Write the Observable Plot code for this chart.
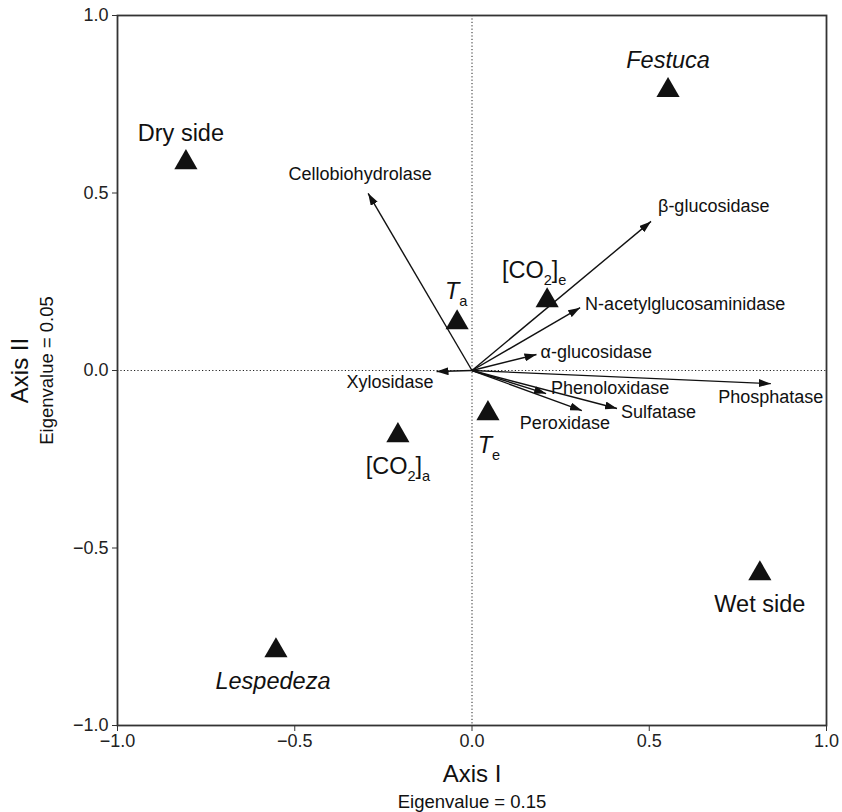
<!DOCTYPE html>
<html><head><meta charset="utf-8">
<script src="https://cdn.jsdelivr.net/npm/d3@7"></script>
<script src="https://cdn.jsdelivr.net/npm/@observablehq/plot@0.6"></script>
<style>body{margin:0;background:#fff;} svg{display:block;}</style>
</head><body><div id="chart"></div>
<script>
// ---- data ----
const sites = ["Festuca", "Dry side", "Ta", "[CO2]e", "Te", "[CO2]a", "Lespedeza", "Wet side"];
const siteAxisI  = [0.553, -0.807, -0.042, 0.212, 0.045, -0.209, -0.553, 0.812];
const siteAxisII = [0.789, 0.586, 0.135, 0.197, -0.121, -0.183, -0.789, -0.572];

const enzymes = ["Cellobiohydrolase", "β-glucosidase", "N-acetylglucosaminidase", "α-glucosidase",
  "Xylosidase", "Phenoloxidase", "Sulfatase", "Peroxidase", "Phosphatase"];
const enzAxisI  = [-0.293, 0.505, 0.305, 0.182, -0.10, 0.209, 0.409, 0.31, 0.843];
const enzAxisII = [0.499, 0.42, 0.177, 0.045, -0.003, -0.065, -0.107, -0.113, -0.037];

const axisTicks = [-1, -0.5, 0, 0.5, 1];
const axisTitles = ["Axis I", "Eigenvalue = 0.15", "Axis II", "Eigenvalue = 0.05"];

// ---- label layout (anchor, dx, dy in px) ----
const siteLabelLayout = {
  "Festuca": [0, -30], "Dry side": [-5, -29], "Ta": [-1, -31], "[CO2]e": [-13, -30],
  "Te": [1, 32], "[CO2]a": [0, 31], "Lespedeza": [-3, 31], "Wet side": [0, 31]
};
const enzLabelLayout = {
  "Cellobiohydrolase": ["middle", -8, -19],
  "β-glucosidase": ["start", 7, -15],
  "N-acetylglucosaminidase": ["start", 5, -3],
  "α-glucosidase": ["start", 4, -2],
  "Xylosidase": ["end", -3, 11],
  "Phenoloxidase": ["start", 5, -5],
  "Sulfatase": ["start", 4, 4],
  "Peroxidase": ["middle", -17, 13],
  "Phosphatase": ["middle", 0, 14]
};

const FONT = "'Liberation Sans', Arial, Helvetica, sans-serif";
const fmt = d3.format(".1f");
const si = d3.range(sites.length);
const ei = d3.range(enzymes.length);

const siteTextMarks = si.map(i => Plot.text([i], {
  x: d => siteAxisI[d], y: d => siteAxisII[d], text: d => sites[d],
  dx: siteLabelLayout[sites[i]][0], dy: siteLabelLayout[sites[i]][1],
  fontSize: 23.5, fill: "#111",
  fontStyle: (sites[i] === "Festuca" || sites[i] === "Lespedeza") ? "italic" : "normal"
}));

const enzTextMarks = ei.map(i => Plot.text([i], {
  x: d => enzAxisI[d], y: d => enzAxisII[d], text: d => enzymes[d],
  textAnchor: enzLabelLayout[enzymes[i]][0],
  dx: enzLabelLayout[enzymes[i]][1], dy: enzLabelLayout[enzymes[i]][2],
  fontSize: 18, fill: "#111"
}));

const plot = Plot.plot({
  width: 842, height: 812,
  marginLeft: 117, marginRight: 16, marginTop: 15, marginBottom: 87,
  style: {fontFamily: FONT, fontSize: "18px", color: "#222", background: "#fff"},
  x: {domain: [-1, 1], ticks: axisTicks, tickFormat: fmt, label: null},
  y: {domain: [-1, 1], ticks: axisTicks, tickFormat: fmt, label: null},
  marks: [
    Plot.ruleX([0], {stroke: "#222", strokeWidth: 1, strokeDasharray: "1.2,2.2"}),
    Plot.ruleY([0], {stroke: "#222", strokeWidth: 1, strokeDasharray: "1.2,2.2"}),
    Plot.frame({stroke: "#333", strokeWidth: 1.8}),
    Plot.axisX({ticks: axisTicks, tickFormat: fmt, tickSize: 6, tickPadding: 3, fontSize: 18, label: null, stroke: "#333"}),
    Plot.axisY({ticks: axisTicks, tickFormat: fmt, tickSize: 5, tickPadding: 4, fontSize: 18, label: null, stroke: "#333"}),
    Plot.link(ei, {x1: () => 0, y1: () => 0, x2: d => enzAxisI[d], y2: d => enzAxisII[d],
      stroke: "#111", strokeWidth: 1.4}),
    Plot.dot(si, {x: d => siteAxisI[d], y: d => siteAxisII[d], symbol: "triangle", r: 8.6, fill: "#111", stroke: "none"}),
    ...siteTextMarks,
    ...enzTextMarks,
    Plot.text([axisTitles[0]], {frameAnchor: "bottom", lineAnchor: "middle", textAnchor: "middle", dy: 49, fontSize: 24, fill: "#111"}),
    Plot.text([axisTitles[1]], {frameAnchor: "bottom", lineAnchor: "middle", textAnchor: "middle", dy: 77, fontSize: 18.5, fill: "#111"}),
    Plot.text([axisTitles[2]], {frameAnchor: "left", lineAnchor: "middle", textAnchor: "middle", dx: -97, rotate: -90, fontSize: 24, fill: "#111"}),
    Plot.text([axisTitles[3]], {frameAnchor: "left", lineAnchor: "middle", textAnchor: "middle", dx: -70, rotate: -90, fontSize: 18.5, fill: "#111"})
  ]
});

// filled arrowheads on the vectors
const ns = "http://www.w3.org/2000/svg";
const svg = d3.select(plot);
const defs = svg.insert("defs", ":first-child");
defs.append("marker").attr("id", "ahead").attr("viewBox", "0 0 12 8")
  .attr("refX", 12).attr("refY", 4).attr("markerWidth", 12).attr("markerHeight", 8)
  .attr("markerUnits", "userSpaceOnUse").attr("orient", "auto")
  .append("path").attr("d", "M0,0L12,4L0,8Z").attr("fill", "#111");
svg.selectAll("g[aria-label='link'] path").attr("marker-end", "url(#ahead)");

// subscripts / italics
function rich(el, parts, base) {
  el.textContent = "";
  let shifted = false;
  parts.forEach(([s, kind]) => {
    const ts = document.createElementNS(ns, "tspan");
    ts.textContent = s;
    if (kind === "i") ts.setAttribute("font-style", "italic");
    if (kind === "sub") {
      ts.setAttribute("font-size", (base * 0.62) + "px");
      if (!shifted) { ts.setAttribute("dy", (base * 0.3) + "px"); shifted = true; }
    } else if (shifted) {
      ts.setAttribute("dy", (-base * 0.3) + "px"); shifted = false;
    }
    el.appendChild(ts);
  });
}
svg.selectAll("text").each(function() {
  const t = this.textContent;
  if (t === "Ta") rich(this, [["T", "i"], ["a", "sub"]], 23.5);
  else if (t === "Te") rich(this, [["T", "i"], ["e", "sub"]], 23.5);
  else if (t === "[CO2]e") rich(this, [["[CO", ""], ["2", "sub"], ["]", ""], ["e", "sub"]], 23.5);
  else if (t === "[CO2]a") rich(this, [["[CO", ""], ["2", "sub"], ["]", ""], ["a", "sub"]], 23.5);
});

document.getElementById("chart").appendChild(plot);
</script>
</body></html>
